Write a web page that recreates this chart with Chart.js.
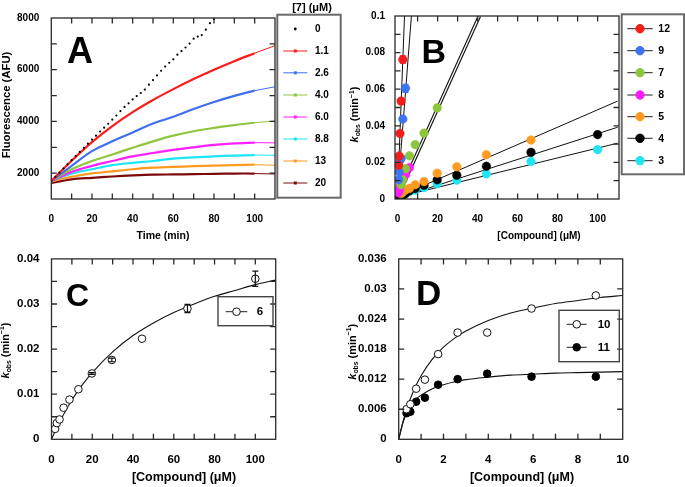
<!DOCTYPE html>
<html><head><meta charset="utf-8">
<script src="https://cdn.jsdelivr.net/npm/chart.js@4.4.0/dist/chart.umd.min.js"></script>
<style>
html,body{margin:0;padding:0;background:#fff;width:685px;height:487px;overflow:hidden}
.p{position:absolute}
canvas{display:block}
</style></head><body>
<div class="p" style="left:0;top:0"><canvas id="cA" width="345" height="245"></canvas></div>
<div class="p" style="left:340px;top:0"><canvas id="cB" width="345" height="245"></canvas></div>
<div class="p" style="left:0;top:240px"><canvas id="cC" width="340" height="247"></canvas></div>
<div class="p" style="left:340px;top:240px"><canvas id="cD" width="345" height="247"></canvas></div>
<script>
// ---------------- Panel A data (fluorescence vs time) ----------------
const aConcLabels = ['0','1.1','2.6','4.0','6.0','8.8','13','20'];
const aColors = ['#000000','#ff1a1a','#3f6fee','#8dc63f','#ff1fff','#1de6f2','#ff9a1f','#7d0a0a'];
const aBlackT = [0,2,4,6,8,10,12,14,16,18,20,22,24,26,28,30,32,34,36,38,40,42,44,46,48,50,52,54,56,58,60,62,64,66,68,70,72,74,76,78,80];
const aBlack  = [1700,1860,2020,2180,2340,2500,2660,2820,2980,3140,3300,3450,3610,3760,3910,4070,4230,4400,4560,4700,4850,4980,5100,5230,5420,5600,5780,5960,6120,6270,6400,6580,6720,6860,7010,7200,7280,7340,7550,7800,7960];
const aT = [0,10,20,30,40,50,60,70,80,90,100];
const a1_1 = [1700,2480,3200,3820,4360,4830,5250,5640,6000,6330,6640];
const a2_6 = [1700,2280,2850,3230,3570,3920,4180,4480,4750,4990,5190];
const a4_0 = [1700,2150,2470,2720,2980,3230,3450,3620,3750,3860,3950];
const a6_0 = [1700,2050,2280,2470,2650,2780,2900,3000,3090,3150,3180];
const a8_8 = [1700,1980,2150,2310,2400,2470,2560,2610,2650,2680,2700];
const a13  = [1680,1860,1990,2070,2150,2210,2240,2270,2290,2310,2330];
const a20  = [1620,1760,1820,1870,1910,1940,1950,1960,1975,1985,1985];
const aFitT = [100,110];
const aFitEnd = [6930,5340,4020,3170,2690,2300,1965];
const aXTicks = [0,20,40,60,80,100];
const aYTicks = [2000,4000,6000,8000];
const aXMinor = [10,20,30,40,50,60,70,80,90,100];
const aYMinor = [2000,3000,4000,5000,6000,7000];

// ---------------- Panel B data (kobs vs compound) ----------------
const bNames = ['12','9','7','8','5','4','3'];
const bColors = ['#f21d1d','#3d74f0','#8cc63e','#ff1cff','#ff9b21','#000000','#20e4f4'];
const bX12 = [0.52,0.78,1.17,1.76,2.63];
const bY12 = [0.0185,0.0235,0.0358,0.0535,0.0762];
const bE12 = [0,0,0.0008,0.001,0.002];
const bX9 = [0.52,0.78,1.17,1.76,2.63,3.95];
const bY9 = [0.0105,0.0148,0.0212,0.0222,0.0437,0.0605];
const bE9 = [0,0,0,0,0.001,0.0022];
const bX7 = [1.76,2.63,3.95,5.93,8.8,13.2,19.8];
const bY7 = [0.0078,0.0103,0.0166,0.0236,0.0297,0.036,0.0498];
const bE7 = [0,0,0,0,0,0.0007,0.0015];
const bX8 = [0.35,0.52,0.78,1.17,1.76,2.63,3.95,5.93];
const bY8 = [0.0034,0.0045,0.0052,0.0068,0.0088,0.0103,0.0133,0.0172];
const bX5 = [1.76,2.63,3.95,5.93,8.8,13.2,19.8,29.6,44.4,66.7];
const bY5 = [0.003,0.0038,0.0049,0.0058,0.0078,0.0095,0.0141,0.0176,0.0242,0.0322];
const bX4 = [0.78,1.17,1.76,2.63,3.95,5.93,8.8,13.2,19.8,29.6,44.4,66.7,100];
const bY4 = [0.0008,0.001,0.0013,0.002,0.003,0.0045,0.0058,0.0075,0.0105,0.013,0.0179,0.0255,0.0352];
const bX3 = [1.76,2.63,3.95,5.93,8.8,13.2,19.8,29.6,44.4,66.7,100];
const bY3 = [0.0024,0.0027,0.0031,0.004,0.0048,0.0062,0.0083,0.0103,0.0137,0.0205,0.027];
const bFitX12 = [-0.1,3.45], bFitY12 = [0,0.1];
const bFitX9  = [-0.2,6.9],  bFitY9  = [0,0.1];
const bFitX7  = [-0.5,40.9], bFitY7  = [0,0.1];
const bFitX5  = [0,110],     bFitY5  = [0.0012,0.0535];
const bFitX4  = [0,110],     bFitY4  = [0.0005,0.0392];
const bFitX3  = [0,110],     bFitY3  = [0.001,0.0305];
const bXTicks = [0,20,40,60,80,100];
const bYTicks = [0,0.02,0.04,0.06,0.08,0.1];
const bXMinor = [10,20,30,40,50,60,70,80,90,100];
const bYMinor = [0.01,0.02,0.03,0.04,0.05,0.06,0.07,0.08,0.09];

// ---------------- Panel C data ----------------
const cName = '6';
const cX = [1.76,2.63,3.95,5.93,8.8,13.2,19.8,29.6,44.4,66.7,100];
const cY = [0.0023,0.0036,0.0044,0.007,0.0088,0.0111,0.0146,0.0176,0.0223,0.029,0.0356];
const cE = [0,0,0,0,0,0,0.0002,0.0004,0,0.0009,0.0017];
const cFitX = [0,2,5,10,15,20,30,40,50,60,70,80,90,100,110];
const cFitY = [0,0.002,0.0047,0.0087,0.012,0.0148,0.0194,0.023,0.0258,0.0281,0.03,0.0317,0.033,0.0343,0.0353];
const cXTicks = [0,20,40,60,80,100];
const cYTicks = [0,0.01,0.02,0.03,0.04];
const cXMinor = [10,20,30,40,50,60,70,80,90,100];
const cYMinor = [0.005,0.01,0.015,0.02,0.025,0.03,0.035];

// ---------------- Panel D data ----------------
const dNames = ['10','11'];
const dX = [0.35,0.52,0.78,1.17,1.76,2.63,3.95,5.93,8.8];
const dY10 = [0.006,0.007,0.0101,0.0119,0.017,0.0213,0.0213,0.0261,0.0287];
const dY11 = [0.0052,0.0055,0.0075,0.0083,0.0109,0.012,0.0131,0.0125,0.0125];
const dFitX = [0,0.2,0.4,0.6,0.8,1,1.5,2,2.5,3,4,5,6,7,8,9,10];
const dFit10 = [0,0.0036,0.0066,0.009,0.011,0.0127,0.016,0.0184,0.0202,0.0216,0.0237,0.0252,0.0262,0.0271,0.0277,0.0283,0.0287];
const dFit11 = [0,0.0035,0.0056,0.007,0.0081,0.0088,0.0101,0.0109,0.0115,0.0119,0.0124,0.0128,0.013,0.0132,0.0133,0.0134,0.0135];
const dXTicks = [0,2,4,6,8,10];
const dYTicks = [0,0.006,0.012,0.018,0.024,0.03,0.036];
const dXMinor = [1,2,3,4,5,6,7,8,9];
const dYMinor = [0.006,0.012,0.018,0.024,0.03];

// ---------------- helpers ----------------
const FAM = "'Liberation Sans', Arial, Helvetica, sans-serif";
const fnt = (size, style) => (style || '') + ' bold ' + size + 'px ' + FAM;
const pts = (xs, ys) => xs.map((x, i) => ({x: x, y: ys[i]}));

const framePlugin = {
  id: 'frame',
  afterDatasetsDraw(chart, args, o) {
    const ctx = chart.ctx, a = chart.chartArea, sx = chart.scales.x, sy = chart.scales.y;
    ctx.save();
    ctx.strokeStyle = '#2a2a2a';
    ctx.lineWidth = 1.3;
    ctx.strokeRect(a.left, a.top, a.right - a.left, a.bottom - a.top);
    ctx.beginPath();
    const L = 5.5;
    (o.xMinor || []).forEach(v => {
      const p = sx.getPixelForValue(v);
      ctx.moveTo(p, a.bottom); ctx.lineTo(p, a.bottom - L);
      ctx.moveTo(p, a.top); ctx.lineTo(p, a.top + L);
    });
    (o.yMinor || []).forEach(v => {
      const p = sy.getPixelForValue(v);
      ctx.moveTo(a.left, p); ctx.lineTo(a.left + L, p);
      ctx.moveTo(a.right, p); ctx.lineTo(a.right - L, p);
    });
    ctx.stroke();
    ctx.restore();
  }
};

const errPlugin = {
  id: 'errbars',
  afterDatasetsDraw(chart) {
    const ctx = chart.ctx, sx = chart.scales.x, sy = chart.scales.y;
    ctx.save();
    chart.data.datasets.forEach(ds => {
      if (!ds.errors) return;
      ctx.strokeStyle = ds.errColor || ds.borderColor;
      ctx.lineWidth = 1.2;
      ds.data.forEach((d, j) => {
        const e = ds.errors[j];
        if (!e) return;
        const px = sx.getPixelForValue(d.x);
        const y1 = sy.getPixelForValue(d.y - e), y2 = sy.getPixelForValue(d.y + e);
        ctx.beginPath();
        ctx.moveTo(px, y1); ctx.lineTo(px, y2);
        ctx.moveTo(px - 3, y1); ctx.lineTo(px + 3, y1);
        ctx.moveTo(px - 3, y2); ctx.lineTo(px + 3, y2);
        ctx.stroke();
      });
    });
    ctx.restore();
  }
};

function drawSegs(ctx, segs, x, y, rot, align) {
  ctx.save();
  ctx.translate(x, y);
  if (rot) ctx.rotate(rot);
  let w = 0;
  segs.forEach(s => { ctx.font = s.font; w += ctx.measureText(s.t).width; });
  let cx = align === 'left' ? 0 : -w / 2;
  ctx.fillStyle = '#000';
  ctx.textBaseline = 'alphabetic';
  segs.forEach(s => {
    ctx.font = s.font;
    ctx.fillText(s.t, cx, s.dy || 0);
    cx += ctx.measureText(s.t).width;
  });
  ctx.restore();
}

const textPlugin = {
  id: 'texts',
  afterDraw(chart, args, o) {
    (o.items || []).forEach(it => drawSegs(chart.ctx, it.segs, it.x, it.y, it.rot, it.align));
  }
};

const legendPlugin = {
  id: 'boxlegend',
  afterDraw(chart, args, o) {
    if (!o.box) return;
    const ctx = chart.ctx, b = o.box;
    ctx.save();
    ctx.strokeStyle = b.color; ctx.lineWidth = b.lw;
    ctx.strokeRect(b.x, b.y, b.w, b.h);
    if (o.title) drawSegs(ctx, [{t: o.title.text, font: o.title.font}], o.title.x, o.title.y, 0);
    o.rows.forEach(r => {
      const s = r.sym;
      if (s.line) {
        ctx.strokeStyle = s.line; ctx.lineWidth = 1;
        ctx.beginPath(); ctx.moveTo(o.sx0, r.y); ctx.lineTo(o.sx1, r.y); ctx.stroke();
      }
      const mx = (o.sx0 + o.sx1) / 2;
      if (s.marker === 'square') {
        ctx.fillStyle = s.color; ctx.fillRect(mx - 1.5, r.y - 1.5, 3, 3);
      } else if (s.marker === 'dot') {
        ctx.fillStyle = s.color; ctx.beginPath(); ctx.arc(mx, r.y, 1.4, 0, Math.PI * 2); ctx.fill();
      } else if (s.marker === 'circle') {
        ctx.beginPath(); ctx.arc(mx, r.y, s.r, 0, Math.PI * 2);
        ctx.fillStyle = s.fill; ctx.fill();
        ctx.strokeStyle = s.color; ctx.lineWidth = 1; ctx.stroke();
      }
      ctx.font = o.font; ctx.fillStyle = '#000'; ctx.textBaseline = 'middle'; ctx.textAlign = 'left';
      ctx.fillText(r.label, o.lx, r.y + 0.5);
    });
    ctx.restore();
  }
};

function axis(min, max, labels, size, pad, fitFn) {
  return {
    type: 'linear', min: min, max: max,
    afterFit: fitFn,
    afterBuildTicks: s => { s.ticks = labels.map(v => ({value: v})); },
    ticks: {font: {family: FAM, size: size, weight: 'bold'}, color: '#000', padding: pad,
            maxRotation: 0, minRotation: 0, autoSkip: false, callback: v => String(v)},
    grid: {display: false, drawTicks: false},
    border: {display: false}
  };
}

function makeChart(id, W, H, area, xs, ys, datasets, plugOpts) {
  const ctx = document.getElementById(id);
  return new Chart(ctx, {
    type: 'scatter',
    data: {datasets: datasets},
    options: {
      responsive: false, animation: false, devicePixelRatio: 1, events: [],
      layout: {padding: {left: 0, top: area.t, right: W - area.r, bottom: 0}},
      scales: {
        x: axis(xs.min, xs.max, xs.labels, xs.size, xs.pad, s => { s.height = H - area.b; }),
        y: axis(ys.min, ys.max, ys.labels, ys.size, ys.pad, s => { s.width = area.l; })
      },
      plugins: Object.assign({legend: {display: false}, tooltip: {enabled: false}}, plugOpts)
    },
    plugins: [framePlugin, errPlugin, textPlugin, legendPlugin]
  });
}

const kobs = (size) => [
  {t: 'k', font: fnt(size, 'italic')},
  {t: 'obs', font: fnt(size * 0.62), dy: 2},
  {t: ' (min', font: fnt(size)},
  {t: '\u22121', font: fnt(size * 0.62), dy: -size * 0.4},
  {t: ')', font: fnt(size)}
];

// ---------------- Panel A ----------------
(function () {
  const series = [a1_1, a2_6, a4_0, a6_0, a8_8, a13, a20];
  const ds = [];
  ds.push({data: pts(aBlackT, aBlack), showLine: false, pointRadius: 1.1, pointBackgroundColor: '#000', pointBorderWidth: 0, borderColor: '#000', order: 0});
  series.forEach((s, i) => {
    const col = aColors[i + 1];
    ds.push({data: pts(aT, s), showLine: true, borderColor: col, borderWidth: 2.2, pointRadius: 0, tension: 0.35, order: 1});
    ds.push({data: pts(aFitT, [s[s.length - 1], aFitEnd[i]]), showLine: true, borderColor: col, borderWidth: 1, pointRadius: 0, order: 2});
  });
  const rowsY = [29, 51, 72.8, 95, 117, 139, 161, 183];
  makeChart('cA', 345, 245, {l: 51.3, t: 14.3, r: 275, b: 199},
    {min: 0, max: 110, labels: aXTicks, size: 10, pad: 14},
    {min: 1000, max: 8000, labels: aYTicks, size: 10, pad: 12}, ds, {
      frame: {xMinor: aXMinor, yMinor: aYMinor},
      texts: {items: [
        {segs: [{t: 'A', font: fnt(36)}], x: 67, y: 63.3, align: 'left'},
        {segs: [{t: 'Time (min)', font: fnt(10.5)}], x: 163, y: 238.5},
        {segs: [{t: 'Fluorescence (AFU)', font: fnt(11.3)}], x: 9.5, y: 105, rot: -Math.PI / 2}
      ]},
      boxlegend: {
        box: {x: 277.3, y: 14.7, w: 63.4, h: 183, color: '#6a6a6a', lw: 2},
        title: {text: '[7] (\u03bcM)', font: fnt(11), x: 312, y: 11},
        sx0: 283.3, sx1: 307.3, lx: 315, font: fnt(10),
        rows: aConcLabels.map((l, i) => ({y: rowsY[i], label: l,
          sym: i === 0 ? {marker: 'dot', color: '#000'} : {line: aColors[i], marker: 'square', color: aColors[i]}}))
      }
    });
})();

// ---------------- Panel B ----------------
(function () {
  const ds = [];
  const fit = (xs, ys, w, col, order) => ({data: pts(xs, ys), showLine: true, borderColor: col, borderWidth: w, pointRadius: 0, order: order});
  ds.push(fit(bFitX7, bFitY7, 3.6, '#111', 4));
  ds.push(fit(bFitX7, bFitY7, 1.3, '#fff', 3));
  ds.push(fit(bFitX12, bFitY12, 1, '#111', 3));
  ds.push(fit(bFitX9, bFitY9, 1, '#111', 3));
  ds.push(fit(bFitX5, bFitY5, 1, '#111', 3));
  ds.push(fit(bFitX4, bFitY4, 1, '#111', 3));
  ds.push(fit(bFitX3, bFitY3, 1, '#111', 3));
  const sets = [[bX12, bY12, bE12], [bX9, bY9, bE9], [bX7, bY7, bE7], [bX8, bY8, null], [bX5, bY5, null], [bX4, bY4, null], [bX3, bY3, null]];
  sets.forEach((s, i) => {
    const d = {data: pts(s[0], s[1]), showLine: false, pointRadius: 4.3, pointBackgroundColor: bColors[i],
      pointBorderColor: bColors[i], pointBorderWidth: 0.5, borderColor: bColors[i], order: 1};
    if (s[2]) d.errors = s[2];
    ds.push(d);
  });
  const rowsY = [28.7, 50.7, 72.7, 95, 116.7, 138.3, 160.7];
  makeChart('cB', 345, 245, {l: 55, t: 14.3, r: 279, b: 199},
    {min: -1.3, max: 110.7, labels: bXTicks, size: 10, pad: 14},
    {min: 0, max: 0.1, labels: bYTicks, size: 10, pad: 10}, ds, {
      frame: {xMinor: bXMinor, yMinor: bYMinor},
      texts: {items: [
        {segs: [{t: 'B', font: fnt(34)}], x: 81.5, y: 63.3, align: 'left'},
        {segs: [{t: '[Compound] (\u03bcM)', font: fnt(10)}], x: 199, y: 238.5},
        {segs: kobs(11), x: 18, y: 114.5, rot: -Math.PI / 2}
      ]},
      boxlegend: {
        box: {x: 281.7, y: 14.3, w: 62.3, h: 160, color: '#6a6a6a', lw: 2},
        sx0: 287.3, sx1: 312.7, lx: 318.3, font: fnt(10.5),
        rows: bNames.map((l, i) => ({y: rowsY[i], label: l,
          sym: {line: '#222', marker: 'circle', color: bColors[i], fill: bColors[i], r: 4.2}}))
      }
    });
})();

// ---------------- Panel C ----------------
(function () {
  const ds = [
    {data: pts(cFitX, cFitY), showLine: true, borderColor: '#111', borderWidth: 1.1, pointRadius: 0, cubicInterpolationMode: 'monotone', order: 2},
    {data: pts(cX, cY), showLine: false, pointRadius: 3.8, pointBackgroundColor: '#fff', pointBorderColor: '#111',
      pointBorderWidth: 1, borderColor: '#111', errors: cE, order: 1}
  ];
  makeChart('cC', 340, 247, {l: 51.5, t: 14.3, r: 275.7, b: 199.3},
    {min: 0, max: 110, labels: cXTicks, size: 11.5, pad: 14},
    {min: 0, max: 0.04, labels: cYTicks, size: 11.5, pad: 12}, ds, {
      frame: {xMinor: cXMinor, yMinor: cYMinor},
      texts: {items: [
        {segs: [{t: 'C', font: fnt(32)}], x: 66, y: 65.5, align: 'left'},
        {segs: [{t: '[Compound] (\u03bcM)', font: fnt(12.5)}], x: 184, y: 240.5},
        {segs: kobs(11), x: 8.5, y: 110.5, rot: -Math.PI / 2}
      ]},
      boxlegend: {
        box: {x: 218, y: 56.7, w: 55, h: 29, color: '#444', lw: 1.4},
        sx0: 225.7, sx1: 247.3, lx: 256.7, font: fnt(11.5),
        rows: [{y: 71.7, label: cName, sym: {line: '#222', marker: 'circle', color: '#111', fill: '#fff', r: 3.8}}]
      }
    });
})();

// ---------------- Panel D ----------------
(function () {
  const ds = [
    {data: pts(dFitX, dFit10), showLine: true, borderColor: '#111', borderWidth: 1.1, pointRadius: 0, cubicInterpolationMode: 'monotone', order: 2},
    {data: pts(dFitX, dFit11), showLine: true, borderColor: '#111', borderWidth: 1.1, pointRadius: 0, cubicInterpolationMode: 'monotone', order: 2},
    {data: pts(dX, dY10), showLine: false, pointRadius: 3.8, pointBackgroundColor: '#fff', pointBorderColor: '#111', pointBorderWidth: 1, order: 1},
    {data: pts(dX, dY11), showLine: false, pointRadius: 3.8, pointBackgroundColor: '#000', pointBorderColor: '#000', pointBorderWidth: 1, order: 1}
  ];
  makeChart('cD', 345, 247, {l: 58.7, t: 14.3, r: 282.7, b: 199.3},
    {min: 0, max: 10, labels: dXTicks, size: 11.5, pad: 14},
    {min: 0, max: 0.036, labels: dYTicks, size: 11.5, pad: 12}, ds, {
      frame: {xMinor: dXMinor, yMinor: dYMinor},
      texts: {items: [
        {segs: [{t: 'D', font: fnt(35)}], x: 76, y: 65, align: 'left'},
        {segs: [{t: '[Compound] (\u03bcM)', font: fnt(12.5)}], x: 182, y: 240.5},
        {segs: kobs(11), x: 15.5, y: 111.7, rot: -Math.PI / 2}
      ]},
      boxlegend: {
        box: {x: 219, y: 70.3, w: 60.3, h: 51.4, color: '#444', lw: 1.4},
        sx0: 226.7, sx1: 246.7, lx: 257.7, font: fnt(11.5),
        rows: [
          {y: 84.3, label: dNames[0], sym: {line: '#222', marker: 'circle', color: '#111', fill: '#fff', r: 3.8}},
          {y: 107.3, label: dNames[1], sym: {line: '#222', marker: 'circle', color: '#000', fill: '#000', r: 3.8}}
        ]
      }
    });
})();
</script>
</body></html>
